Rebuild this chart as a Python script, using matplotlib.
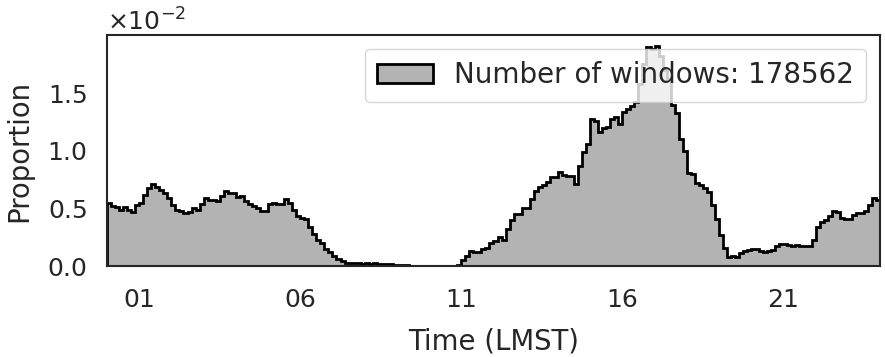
import numpy as np
import matplotlib
matplotlib.use("Agg")
import matplotlib.pyplot as plt
import seaborn as sns

# proportion of windows per 7.5-minute LMST bin, in units of 1e-2
night = [0.55, 0.52, 0.51, 0.49, 0.51, 0.49, 0.47, 0.53,
         0.55, 0.62, 0.68, 0.71, 0.69, 0.66, 0.63, 0.59,
         0.53, 0.49, 0.48, 0.46, 0.47, 0.50, 0.49, 0.54,
         0.59, 0.57, 0.57, 0.56, 0.61, 0.65, 0.63, 0.63,
         0.60, 0.61, 0.56, 0.54, 0.52, 0.50, 0.48, 0.48,
         0.54, 0.55, 0.54, 0.54, 0.58, 0.55, 0.49, 0.43]
morning = [0.42, 0.41, 0.34, 0.28, 0.23, 0.20, 0.15, 0.12,
           0.09, 0.065, 0.04, 0.03, 0.025, 0.03, 0.025, 0.02,
           0.025, 0.02, 0.025, 0.02, 0.02, 0.02, 0.015, 0.01,
           0.008, 0.005, 0.005, 0.003, 0.002, 0.002, 0.001, 0.001,
           0, 0, 0, 0, 0, 0, 0, 0.01,
           0.05, 0.09, 0.13, 0.12, 0.12, 0.15, 0.16, 0.20]
afternoon = [0.22, 0.25, 0.23, 0.32, 0.40, 0.45, 0.45, 0.50,
             0.50, 0.58, 0.65, 0.69, 0.70, 0.73, 0.77, 0.77,
             0.82, 0.79, 0.78, 0.78, 0.71, 0.87, 0.99, 1.06,
             1.28, 1.26, 1.16, 1.20, 1.21, 1.28, 1.29, 1.23,
             1.34, 1.36, 1.39, 1.42, 1.58, 1.75, 1.90, 1.88,
             1.91, 1.82, 1.70, 1.62, 1.40, 1.33, 1.10, 1.00]
evening = [0.81, 0.80, 0.72, 0.70, 0.68, 0.64, 0.53, 0.41,
           0.27, 0.16, 0.08, 0.09, 0.08, 0.11, 0.13, 0.14,
           0.15, 0.15, 0.13, 0.12, 0.13, 0.14, 0.17, 0.19,
           0.19, 0.18, 0.17, 0.18, 0.17, 0.17, 0.17, 0.23,
           0.34, 0.38, 0.40, 0.43, 0.48, 0.47, 0.42, 0.41,
           0.41, 0.44, 0.46, 0.46, 0.48, 0.53, 0.59, 0.57]

n_windows = 178562
tick_hours = [1, 6, 11, 16, 21]
tick_labels = ["01", "06", "11", "16", "21"]
y_ticks = [0.0, 0.005, 0.010, 0.015]

sns.set_style("white")
plt.rcParams["font.family"] = ["DejaVu Sans"]

values = np.array(night + morning + afternoon + evening) * 1e-2
edges = np.linspace(0, 24, len(values) + 1)
centers = (edges[:-1] + edges[1:]) / 2

fig = plt.figure(figsize=(8.85, 3.57), dpi=100)
ax = fig.add_axes([107 / 885, 91 / 357, 773 / 885, 231 / 357])

ax.hist(centers, bins=edges, weights=values, histtype="stepfilled",
        facecolor="#b3b3b3", edgecolor="black", linewidth=2.0,
        label=f"Number of windows: {n_windows}")

ax.set_xlim(0, 24)
ax.set_xticks(tick_hours)
ax.set_xticklabels(tick_labels)
ax.set_yticks(y_ticks)
ax.ticklabel_format(axis="y", style="sci", scilimits=(0, 0), useMathText=True)
ax.tick_params(axis="both", labelsize=18, length=0, labelcolor=".15")
ax.tick_params(axis="y", pad=14)
ax.tick_params(axis="x", pad=16)
ax.yaxis.get_offset_text().set_fontsize(18)
ax.yaxis.get_offset_text().set_color(".15")

ax.set_xlabel("Time (LMST)", fontsize=19.8, color=".15", labelpad=11)
ax.set_ylabel("Proportion", fontsize=19.8, color=".15", labelpad=10)

for s in ax.spines.values():
    s.set_color(".15")
    s.set_linewidth(1.5)

ax.legend(loc="upper right", fontsize=20, framealpha=0.8,
          borderpad=0.45, handletextpad=0.75, borderaxespad=0.5)

fig.savefig("out.png", dpi=100)
